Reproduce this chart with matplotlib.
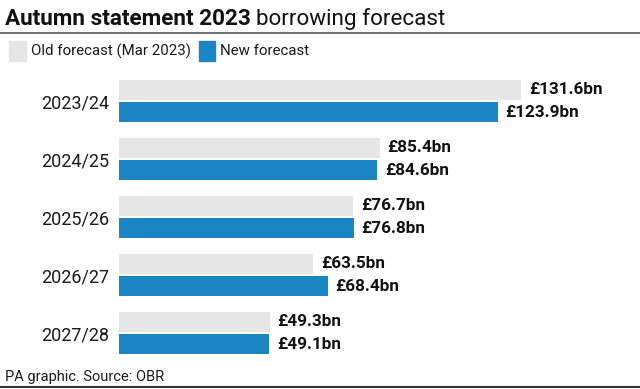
import matplotlib.pyplot as plt
from matplotlib.patches import Rectangle
from matplotlib.lines import Line2D

# Data
years = ['2023/24', '2024/25', '2025/26', '2026/27', '2027/28']
old_forecast = [131.6, 85.4, 76.7, 63.5, 49.3]
new_forecast = [123.9, 84.6, 76.8, 68.4, 49.1]

grey = '#e6e6e6'
blue = '#1b84c3'

plt.rcParams['font.family'] = ['Roboto', 'DejaVu Sans']

fig = plt.figure(figsize=(6.4, 3.89), dpi=100)
W, H = 640, 389

# axes placed in pixel terms: left 119px, top 72px, bottom 362px
ax = fig.add_axes([119 / W, 1 - 362 / H, (640 - 119) / W, 290 / H])
ax.set_xlim(0, (640 - 119) / 3.055)
ax.set_ylim(len(years) - 0.5, -0.5)

pos = list(range(len(years)))
bh = 0.345
off = 0.19
ax.barh([p - off for p in pos], old_forecast, height=bh, color=grey)
ax.barh([p + off for p in pos], new_forecast, height=bh, color=blue)

for p, o, n in zip(pos, old_forecast, new_forecast):
    ax.text(o + 2.5, p - off, f'£{o}bn', va='center', ha='left',
            fontsize=12.3, fontweight='bold', color='#111111')
    ax.text(n + 2.5, p + off, f'£{n}bn', va='center', ha='left',
            fontsize=12.3, fontweight='bold', color='#111111')

ax.set_yticks(pos)
ax.set_yticklabels(years, fontsize=13, color='#1a1a1a')
ax.tick_params(axis='y', length=0, pad=7)
ax.set_xticks([])
for s in ax.spines.values():
    s.set_visible(False)

fig.canvas.draw()
rend = fig.canvas.get_renderer()

# title
t1 = fig.text(5 / W, 1 - 19 / H, 'Autumn statement 2023', fontsize=16.2,
              fontweight='bold', va='center', ha='left', color='#111111')
bb = t1.get_window_extent(renderer=rend)
fig.text((bb.x1 + 5) / W, 1 - 19 / H, 'borrowing forecast', fontsize=16.2,
         va='center', ha='left', color='#111111')

fig.add_artist(Line2D([0, 1], [1 - 33 / H, 1 - 33 / H], color='#555555', lw=1.2))

# legend
fig.add_artist(Rectangle((9 / W, 1 - 61 / H), 17 / W, 20 / H, color=grey, transform=fig.transFigure))
l1 = fig.text(31 / W, 1 - 51 / H, 'Old forecast (Mar 2023)', fontsize=10.8,
              va='center', ha='left', color='#1a1a1a')
bb = l1.get_window_extent(renderer=rend)
x0 = bb.x1 + 8
fig.add_artist(Rectangle((x0 / W, 1 - 61 / H), 16 / W, 20 / H, color=blue, transform=fig.transFigure))
fig.text((x0 + 21) / W, 1 - 51 / H, 'New forecast', fontsize=10.8,
         va='center', ha='left', color='#1a1a1a')

# footer
fig.text(5 / W, 1 - 377 / H, 'PA graphic. Source: OBR', fontsize=10.5,
         va='center', ha='left', color='#1a1a1a')
fig.add_artist(Line2D([0, 1], [1 - 387 / H, 1 - 387 / H], color='#333333', lw=1.5))

fig.savefig('out.png', dpi=100)
